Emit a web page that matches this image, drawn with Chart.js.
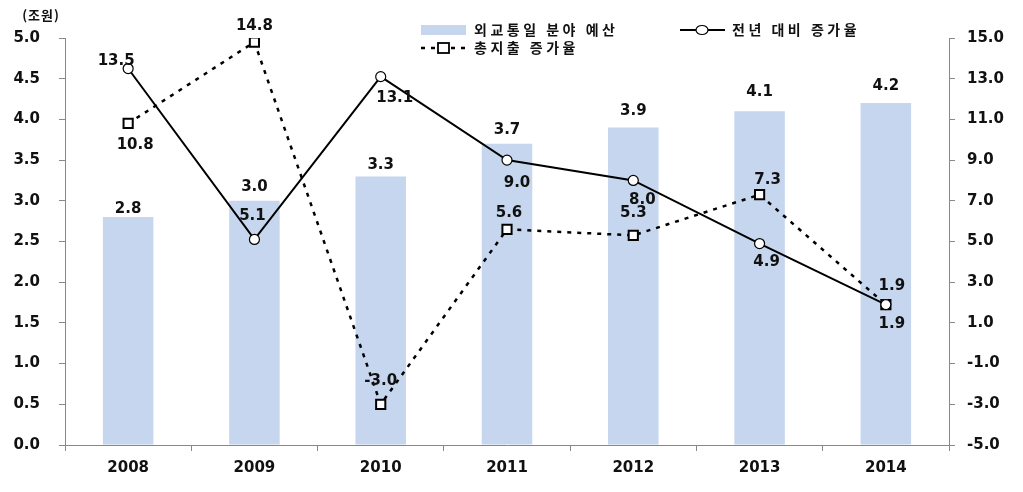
<!DOCTYPE html>
<html><head><meta charset="utf-8">
<script src="https://cdn.jsdelivr.net/npm/chart.js@4/dist/chart.umd.min.js"></script>
<style>html,body{margin:0;padding:0;background:#fff}#wrap{width:1023px;height:492px;position:relative}</style>
</head><body><div id="wrap"><canvas id="c" width="1023" height="492"></canvas></div>
<script>
const categories = ['2008','2009','2010','2011','2012','2013','2014'];
const budget = [2.8, 3.0, 3.3, 3.7, 3.9, 4.1, 4.2];
const yoyGrowth = [13.5, 5.1, 13.1, 9.0, 8.0, 4.9, 1.9];
const totalSpendGrowth = [10.8, 14.8, -3.0, 5.6, 5.3, 7.3, 1.9];
const leftTicks = [0,0.5,1,1.5,2,2.5,3,3.5,4,4.5,5];
const rightTicks = [-5,-3,-1,1,3,5,7,9,11,13,15];
const seriesNames = ['외교통일 분야 예산','전년 대비 증가율','총지출 증가율'];
const unitLabel = '(조원)';

// label offsets (style only)
const budgetLabelDy = [-8,-14,-11,-14,-16,-19,-17];
const yoyOff = [[-12,-7],[-2,-23],[14,21],[10,23],[9,20],[7,19],[6,20]];
const totOff = [[7,22],[0,-16],[0,-23],[2,-16],[0,-22],[8,-15],[6,-18]];

const FONT = 'bold 15px "DejaVu Sans", Verdana, sans-serif';
const KFONT = 'bold 14px "Noto Sans CJK KR", sans-serif';

const labelPlugin = {
  id: 'labels',
  afterDatasetsDraw(chart) {
    const ctx = chart.ctx;
    ctx.save();
    ctx.font = FONT; ctx.fillStyle = '#111'; ctx.textAlign = 'center'; ctx.textBaseline = 'middle';
    const m0 = chart.getDatasetMeta(0), m1 = chart.getDatasetMeta(1), m2 = chart.getDatasetMeta(2);
    m0.data.forEach((b,i)=>{ ctx.fillText(budget[i].toFixed(1), b.x, b.y + budgetLabelDy[i]); });
    m1.data.forEach((p,i)=>{ ctx.fillText(yoyGrowth[i].toFixed(1), p.x + yoyOff[i][0], p.y + yoyOff[i][1]); });
    m2.data.forEach((p,i)=>{ ctx.fillText(totalSpendGrowth[i].toFixed(1), p.x + totOff[i][0], p.y + totOff[i][1]); });
    // unit label
    ctx.font = 'bold 13px "Noto Sans CJK KR", sans-serif';
    ctx.letterSpacing = '1px';
    ctx.fillText(unitLabel, 41, 15);
    // legend
    ctx.font = KFONT; ctx.textAlign = 'left'; ctx.letterSpacing = '3.5px';
    ctx.fillStyle = '#c6d6ee'; ctx.fillRect(421, 25, 45, 10);
    ctx.fillStyle = '#111'; ctx.fillText(seriesNames[0], 474, 30);
    ctx.strokeStyle = '#000'; ctx.lineWidth = 2;
    ctx.beginPath(); ctx.moveTo(680, 30); ctx.lineTo(725, 30); ctx.stroke();
    ctx.beginPath(); ctx.ellipse(702, 30, 6, 4.5, 0, 0, Math.PI*2); ctx.fillStyle='#fff'; ctx.fill(); ctx.lineWidth=1.2; ctx.stroke();
    ctx.fillStyle = '#111'; ctx.fillText(seriesNames[1], 732, 30);
    ctx.lineWidth = 2.5; ctx.setLineDash([4,6]);
    ctx.beginPath(); ctx.moveTo(421, 48); ctx.lineTo(466, 48); ctx.stroke();
    ctx.setLineDash([]);
    ctx.fillStyle='#fff'; ctx.fillRect(438,43,11,10); ctx.lineWidth=1.8; ctx.strokeRect(438,43,11,10);
    ctx.fillStyle = '#111'; ctx.fillText(seriesNames[2], 474, 48);
    ctx.restore();
  }
};

new Chart(document.getElementById('c'), {
  data: {
    labels: categories,
    datasets: [
      { type:'bar', data: budget, yAxisID:'y', backgroundColor:'#c6d6ee', barPercentage:0.8, categoryPercentage:0.5, order:3 },
      { type:'line', data: yoyGrowth, yAxisID:'y2', borderColor:'#000', borderWidth:2, pointStyle:'circle', pointRadius:5, pointBackgroundColor:'#fff', pointBorderColor:'#000', pointBorderWidth:1.2, tension:0, order:1 },
      { type:'line', data: totalSpendGrowth, yAxisID:'y2', borderColor:'#000', borderWidth:2.5, borderDash:[4,6], pointStyle:'rect', pointRadius:6.5, pointBackgroundColor:'#fff', pointBorderColor:'#000', pointBorderWidth:2, tension:0, order:2 }
    ]
  },
  options: {
    responsive:false, animation:false,
    layout:{ padding:{ top:38, left:0, right:0, bottom:0 } },
    plugins:{ legend:{display:false}, tooltip:{enabled:false} },
    scales:{
      x:{ offset:true, grid:{ offset:true, drawOnChartArea:false, color:'#888', tickLength:6 }, border:{color:'#888'},
          ticks:{ font:{family:'DejaVu Sans', weight:'bold', size:15}, color:'#111', padding:8 },
          afterFit(s){ s.height = 47; } },
      y:{ position:'left', min:0, max:5, afterBuildTicks(s){ s.ticks = leftTicks.map(v=>({value:v})); },
          grid:{ drawOnChartArea:false, color:'#888', tickLength:6 }, border:{color:'#888'},
          ticks:{ font:{family:'DejaVu Sans', weight:'bold', size:15}, color:'#111', padding:19, callback:v=>v.toFixed(1) },
          afterFit(s){ s.width = 65; } },
      y2:{ position:'right', min:-5, max:15, afterBuildTicks(s){ s.ticks = rightTicks.map(v=>({value:v})); },
          grid:{ drawOnChartArea:false, color:'#888', tickLength:6 }, border:{color:'#888'},
          ticks:{ font:{family:'DejaVu Sans', weight:'bold', size:15}, color:'#111', padding:12, callback:v=>v.toFixed(1) },
          afterFit(s){ s.width = 74; } }
    }
  },
  plugins:[labelPlugin]
});
</script></body></html>
